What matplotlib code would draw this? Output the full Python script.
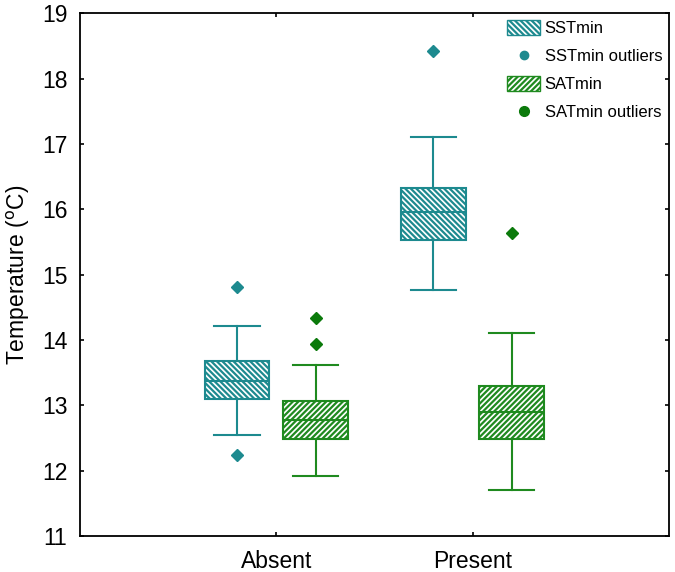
import matplotlib.pyplot as plt
from matplotlib.patches import Patch
from matplotlib.lines import Line2D

plt.rcParams['font.family'] = ['Liberation Sans', 'DejaVu Sans']
plt.rcParams['hatch.linewidth'] = 1.6

# Data (deg C)
groups = ['Absent', 'Present']

sst_q1 = [13.09, 15.53]
sst_med = [13.37, 15.95]
sst_q3 = [13.67, 16.33]
sst_lo = [12.54, 14.77]
sst_hi = [14.21, 17.11]
sst_fliers = [[14.81, 12.24], [18.42]]

sat_q1 = [12.49, 12.49]
sat_med = [12.77, 12.90]
sat_q3 = [13.06, 13.30]
sat_lo = [11.91, 11.70]
sat_hi = [13.62, 14.10]
sat_fliers = [[14.33, 13.94], [15.64]]

sst_col = '#1d8a8f'
sat_col = '#1f8a1f'
sat_out = '#0b7a0b'
sst_hatch = '\\' * 6
sat_hatch = '/' * 6


def make_stats(q1, med, q3, lo, hi, fl):
    return [dict(q1=a, med=b, q3=c, whislo=d, whishi=e, fliers=f)
            for a, b, c, d, e, f in zip(q1, med, q3, lo, hi, fl)]


fig, ax = plt.subplots(figsize=(6.75, 5.72), dpi=100)
fig.subplots_adjust(left=0.1185, right=0.991, top=0.977, bottom=0.063)

pos = [1, 2]
for stats, off, col, ocol, hatch in [
        (make_stats(sst_q1, sst_med, sst_q3, sst_lo, sst_hi, sst_fliers), -0.2, sst_col, sst_col, sst_hatch),
        (make_stats(sat_q1, sat_med, sat_q3, sat_lo, sat_hi, sat_fliers), 0.2, sat_col, sat_out, sat_hatch)]:
    ax.bxp(stats, positions=[p + off for p in pos], widths=0.33,
           patch_artist=True, manage_ticks=False,
           boxprops=dict(facecolor='white', edgecolor=col, linewidth=1.5, hatch=hatch),
           medianprops=dict(color=col, linewidth=1.5),
           whiskerprops=dict(color=col, linewidth=1.5),
           capprops=dict(color=col, linewidth=1.5),
           capwidths=0.23,
           flierprops=dict(marker='D', markersize=6, markerfacecolor=ocol,
                           markeredgecolor=ocol))

ax.set_xlim(0, 3)
ax.set_ylim(11, 19)
ax.set_xticks(pos)
ax.set_xticklabels(groups)
ax.set_yticks(range(11, 20))
ax.tick_params(direction='in', top=True, right=True, labelsize=16.5,
               length=3, width=1.2)
ax.tick_params(axis='y', pad=9)
ax.tick_params(axis='x', pad=10)
for s in ax.spines.values():
    s.set_linewidth(1.3)
ax.set_ylabel('Temperature ($^{\\rm o}$C)', fontsize=16.5, labelpad=7)

handles = [
    Patch(facecolor='white', edgecolor=sst_col, hatch=sst_hatch, label='SSTmin'),
    Line2D([], [], marker='o', linestyle='none', color=sst_col, markersize=6, label='SSTmin outliers'),
    Patch(facecolor='white', edgecolor=sat_col, hatch=sat_hatch, label='SATmin'),
    Line2D([], [], marker='o', linestyle='none', color=sat_out, markersize=7, label='SATmin outliers'),
]
ax.legend(handles=handles, loc='upper right', frameon=False, fontsize=12,
          handlelength=2.0, handleheight=1.0, handletextpad=0.25,
          borderaxespad=0.0, labelspacing=0.72)

fig.savefig('out.png', dpi=100)
